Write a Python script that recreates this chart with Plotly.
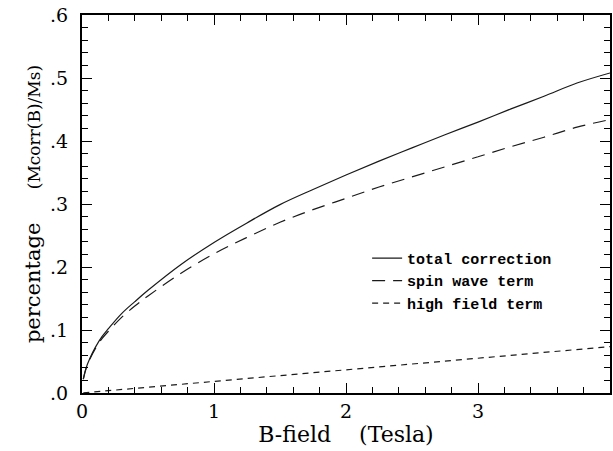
import plotly.graph_objects as go

# Data
b_field = [0.01, 0.03, 0.06, 0.1, 0.15, 0.2, 0.3, 0.4, 0.5, 0.75, 1.0, 1.25, 1.5,
           1.75, 2.0, 2.25, 2.5, 2.75, 3.0, 3.25, 3.5, 3.75, 4.0]
total_correction = [0.022, 0.039, 0.055, 0.072, 0.089, 0.102, 0.126, 0.145, 0.163,
                    0.204, 0.239, 0.270, 0.299, 0.323, 0.346, 0.368, 0.389, 0.410,
                    0.430, 0.451, 0.471, 0.492, 0.508]
spin_wave_term = [0.022, 0.038, 0.054, 0.070, 0.086, 0.098, 0.120, 0.138, 0.154,
                  0.190, 0.221, 0.247, 0.271, 0.291, 0.309, 0.327, 0.343, 0.359,
                  0.375, 0.391, 0.406, 0.422, 0.434]
high_field_term = [0.0002, 0.0006, 0.0011, 0.0018, 0.0028, 0.0037, 0.0055, 0.0074,
                   0.0092, 0.0138, 0.0184, 0.023, 0.0276, 0.0322, 0.0368, 0.0414,
                   0.046, 0.0506, 0.0552, 0.0598, 0.0644, 0.069, 0.0736]

# y tick labels as printed in the reference (no leading zero)
y_tick_labels = {"0": ".0", "0.1": ".1", "0.2": ".2", "0.3": ".3",
                 "0.4": ".4", "0.5": ".5", "0.6": ".6"}

serif = "DejaVu Serif"
ink = "#1a1a1a"

fig = go.Figure()
fig.add_trace(go.Scatter(x=b_field, y=total_correction, mode="lines",
                         name="total correction", line_shape="spline",
                         line=dict(color=ink, width=1.2, dash="solid")))
fig.add_trace(go.Scatter(x=b_field, y=spin_wave_term, mode="lines",
                         name="spin wave term", line_shape="spline",
                         line=dict(color=ink, width=1.2, dash="13px,8px")))
fig.add_trace(go.Scatter(x=b_field, y=high_field_term, mode="lines",
                         name="high field term",
                         line=dict(color=ink, width=1.2, dash="6px,5px")))

fig.update_xaxes(
    range=[0, 4], dtick=1,
    showline=True, linecolor="black", linewidth=2, mirror="allticks",
    ticks="inside", ticklen=10, tickwidth=1, tickcolor="black",
    minor=dict(ticks="inside", dtick=0.2, ticklen=6, tickwidth=1, tickcolor="black"),
    title=dict(text="B-field&nbsp;&nbsp;&nbsp;&nbsp;(Tesla)",
               font=dict(family=serif, size=22, color="black"), standoff=4),
)
fig.update_yaxes(
    range=[0, 0.6], dtick=0.1,
    showline=True, linecolor="black", linewidth=2, mirror="allticks",
    ticks="inside", ticklen=10, tickwidth=1, tickcolor="black",
    labelalias=y_tick_labels, ticklabelstandoff=8,
    minor=dict(ticks="inside", dtick=0.02, ticklen=6, tickwidth=1, tickcolor="black"),
    title=dict(text="percentage&nbsp;&nbsp;&nbsp;&nbsp;&nbsp;<span style='font-size:17px'>(Mcorr(B)/Ms)</span>",
               font=dict(family=serif, size=21, color="black"), standoff=4),
)

fig.update_layout(
    width=613, height=451,
    margin=dict(l=82, r=1, t=15, b=58),
    paper_bgcolor="white", plot_bgcolor="white",
    font=dict(family=serif, size=19, color="black"),
    showlegend=True,
    legend=dict(x=0.54, y=0.40, xanchor="left", yanchor="top",
                bgcolor="rgba(0,0,0,0)", borderwidth=0,
                font=dict(family="Liberation Mono", size=15, color="black", weight="bold"),
                tracegroupgap=0, traceorder="normal"),
)

fig.write_html("out.html", config={"displayModeBar": False},
               post_script="document.body.style.margin='0';")
